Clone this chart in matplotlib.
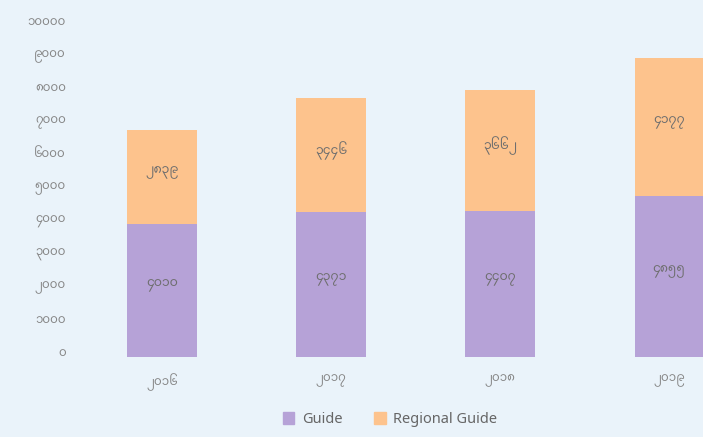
import numpy as np
import matplotlib
matplotlib.use("Agg")
import matplotlib.pyplot as plt
import matplotlib.transforms as mtransforms
from matplotlib.patches import Patch

plt.rcParams['font.family'] = ['Noto Sans Myanmar', 'Noto Sans', 'DejaVu Sans']

# years (Myanmar numerals) and values
years = ["၂၀၁၆", "၂၀၁၇", "၂၀၁၈", "၂၀၁၉"]
guide = [4010, 4371, 4407, 4855]
regional = [2839, 3446, 3662, 4177]
guide_lbl = ["၄၀၁၀", "၄၃၇၁", "၄၄၀၇", "၄၈၅၅"]
regional_lbl = ["၂၈၃၉", "၃၄၄၆", "၃၆၆၂", "၄၁၇၇"]
yticks = [0, 1000, 2000, 3000, 4000, 5000, 6000, 7000, 8000, 9000, 10000]
ytick_lbl = ["၀", "၁၀၀၀", "၂၀၀၀", "၃၀၀၀", "၄၀၀၀", "၅၀၀၀",
             "၆၀၀၀", "၇၀၀၀", "၈၀၀၀", "၉၀၀၀", "၁၀၀၀၀"]

purple = "#b6a2d7"
orange = "#fdc38d"
textc = "#858585"
bg = "#eaf3fa"

fig = plt.figure(figsize=(7.03, 4.37), dpi=100, facecolor=bg)
# axes from x=80px to right edge, y from 357px (bottom) to top
ax = fig.add_axes([80 / 703, 1 - 357 / 437, 1 - 80 / 703, 357 / 437])
ax.set_facecolor(bg)

x = np.arange(len(years))
w = 0.41
b1 = ax.bar(x, guide, w, color=purple)
b2 = ax.bar(x, regional, w, bottom=guide, color=orange)

for bars, labels in ((b1, guide_lbl), (b2, regional_lbl)):
    for r, t in zip(bars, labels):
        ax.text(r.get_x() + r.get_width() / 2, r.get_y() + r.get_height() / 2 + 150, t,
                ha="center", va="center", fontsize=9, color="#6e6e6e")

ax.set_xlim(-0.485, 3.2)
ax.set_ylim(0, 10785)
ax.set_yticks(yticks)
ax.set_yticklabels(ytick_lbl)
ax.set_xticks(x)
ax.set_xticklabels(years)
ax.tick_params(axis="both", length=0, labelcolor=textc, labelsize=8.5)
ax.tick_params(axis="y", pad=10)
ax.tick_params(axis="x", pad=12)
# y labels sit a few pixels above their value in the reference
shift = mtransforms.ScaledTranslation(0, 6 / 100, fig.dpi_scale_trans)
for lab in ax.get_yticklabels():
    lab.set_transform(lab.get_transform() + shift)
for s in ax.spines.values():
    s.set_visible(False)

handles = [Patch(color=purple, label="Guide"), Patch(color=orange, label="Regional Guide")]
fig.legend(handles=handles, loc="center", bbox_to_anchor=(0.555, 0.04), ncol=2,
           frameon=False, fontsize=10.5, labelcolor="#666666",
           handlelength=0.8, handleheight=0.8, columnspacing=2.2, handletextpad=0.5)

fig.savefig("out.png", facecolor=bg)
